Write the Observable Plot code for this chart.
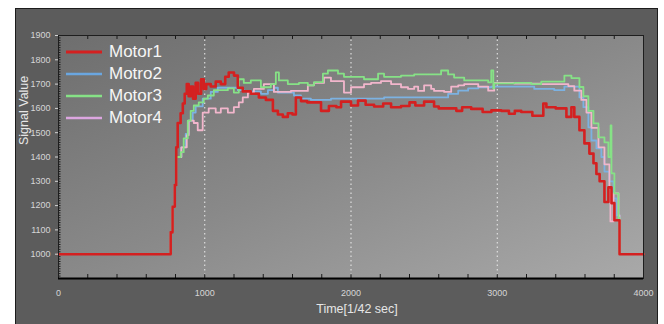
<!DOCTYPE html>
<html>
<head>
<meta charset="utf-8">
<script src="https://cdn.jsdelivr.net/npm/d3@7"></script>
<script src="https://cdn.jsdelivr.net/npm/@observablehq/plot@0.6"></script>
<style>
  html, body { margin: 0; padding: 0; background: #ffffff; }
  #wrap { position: relative; width: 664px; height: 324px; overflow: hidden; background: #ffffff; }
  #panel { position: absolute; left: 15px; top: 8px; width: 643px; height: 318px; background: #5c5c5c;
           border: 1.5px solid #1c1c1c; box-sizing: border-box; }
  #chart { position: absolute; left: 0; top: 0; }
  #legend { position: absolute; left: 66px; top: 41px; font-family: "Liberation Sans", Arial, sans-serif; }
  .row { display: flex; align-items: center; height: 22px; }
  .row span { color: #f6f6f6; font-size: 17px; margin-left: 7px; line-height: 22px; }
</style>
</head>
<body>
<svg width="0" height="0" style="position:absolute">
  <defs>
    <linearGradient id="plotbg" x1="0" y1="0" x2="1" y2="1">
      <stop offset="0" stop-color="#6e6e6e"/>
      <stop offset="0.5" stop-color="#898989"/>
      <stop offset="1" stop-color="#a9a9a9"/>
    </linearGradient>
  </defs>
</svg>
<div id="wrap">
  <div id="panel"></div>
  <div id="chart"></div>
  <div id="legend"></div>
</div>
<script>
// ---- data (time in 1/42 sec, signal value), step-after series ----
const motorNames = ["Motor1", "Motro2", "Motor3", "Motor4"];
const motorColors = ["#d42020", "#7cb2e2", "#86e286", "#f2b6cc"];
const legendColors = ["#d42020", "#6aa6e0", "#86e286", "#dca6e0"];

const motor1 = [[0,1000],[767,1090],[780,1195],[795,1285],[805,1440],[815,1540],[835,1580],[850,1620],[863,1660],[877,1700],[890,1650],[904,1690],[920,1640],[938,1705],[955,1660],[975,1720],[993,1680],[1010,1700],[1041,1690],[1075,1710],[1110,1700],[1140,1730],[1164,1748],[1200,1735],[1226,1685],[1260,1670],[1315,1660],[1370,1645],[1418,1635],[1466,1590],[1500,1575],[1534,1565],[1568,1580],[1600,1575],[1623,1645],[1658,1630],[1700,1625],[1795,1590],[1849,1610],[1900,1605],[1932,1628],[2000,1612],[2048,1632],[2100,1615],[2158,1608],[2220,1620],[2274,1605],[2342,1610],[2400,1625],[2440,1612],[2500,1628],[2568,1608],[2600,1600],[2685,1600],[2720,1590],[2760,1605],[2822,1598],[2900,1585],[2960,1592],[3027,1590],[3080,1578],[3120,1590],[3164,1585],[3240,1570],[3315,1620],[3336,1605],[3400,1600],[3473,1565],[3507,1605],[3527,1565],[3562,1510],[3596,1456],[3630,1414],[3658,1374],[3678,1330],[3700,1300],[3733,1215],[3760,1275],[3781,1210],[3801,1140],[3836,1000],[4000,1000]];

const motor2 = [[0,1000],[767,1090],[780,1195],[795,1285],[805,1400],[840,1440],[870,1495],[890,1550],[918,1583],[938,1608],[986,1640],[1041,1668],[1089,1685],[1158,1685],[1226,1675],[1267,1670],[1384,1660],[1432,1675],[1473,1685],[1500,1665],[1610,1653],[1658,1640],[1726,1635],[1863,1640],[2048,1640],[2226,1645],[2342,1645],[2664,1660],[2733,1673],[2801,1682],[2870,1687],[2959,1690],[3116,1690],[3253,1680],[3390,1675],[3459,1690],[3562,1645],[3589,1605],[3623,1522],[3644,1468],[3678,1436],[3712,1400],[3733,1340],[3767,1300],[3795,1230],[3815,1160],[3836,1000],[4000,1000]];

const motor3 = [[0,1000],[767,1090],[780,1195],[795,1285],[805,1400],[836,1420],[856,1477],[884,1550],[904,1590],[925,1612],[959,1625],[993,1640],[1021,1653],[1062,1675],[1158,1682],[1199,1665],[1233,1720],[1267,1705],[1315,1715],[1384,1687],[1452,1700],[1486,1748],[1507,1715],[1568,1700],[1644,1705],[1705,1695],[1747,1708],[1808,1743],[1842,1756],[1911,1743],[1952,1730],[2089,1720],[2185,1743],[2226,1730],[2342,1735],[2432,1740],[2616,1756],[2664,1740],[2705,1727],[2774,1715],[2938,1707],[2959,1756],[2973,1682],[2979,1703],[3116,1705],[3233,1700],[3301,1710],[3459,1735],[3507,1725],[3562,1688],[3589,1650],[3623,1590],[3658,1538],[3692,1481],[3733,1460],[3760,1400],[3775,1530],[3781,1333],[3801,1250],[3829,1150],[3836,1000],[4000,1000]];

const motor4 = [[0,1000],[767,1090],[780,1195],[795,1285],[805,1400],[840,1440],[877,1490],[890,1550],[925,1540],[952,1510],[986,1583],[1027,1600],[1075,1583],[1110,1600],[1158,1583],[1199,1605],[1233,1625],[1260,1645],[1295,1665],[1336,1680],[1404,1700],[1473,1668],[1589,1672],[1705,1695],[1747,1705],[1815,1727],[1863,1712],[1952,1665],[2000,1687],[2089,1700],[2137,1705],[2205,1712],[2274,1700],[2342,1687],[2390,1680],[2432,1690],[2459,1672],[2500,1695],[2548,1680],[2568,1672],[2637,1668],[2685,1690],[2733,1695],[2774,1700],[2870,1690],[2938,1673],[2979,1705],[3116,1702],[3301,1700],[3486,1692],[3527,1673],[3575,1635],[3610,1583],[3644,1520],[3692,1440],[3733,1370],[3767,1270],[3774,1135],[3795,1250],[3829,1160],[3836,1000],[4000,1000]];

const xTickLabels = [0, 1000, 2000, 3000, 4000];
const yTickLabels = [1000, 1100, 1200, 1300, 1400, 1500, 1600, 1700, 1800, 1900];
const xGrid = [1000, 2000, 3000];
const xMinor = d3.range(0, 4001, 200);
const yMinor = d3.range(900, 1901, 10);
const xLabel = "Time[1/42 sec]";
const yLabel = "Signal Value";

const series = [motor1, motor2, motor3, motor4];
const rows = series.map((s, i) => s.map(([t, v]) => ({t, v, motor: motorNames[i]})));

const W = 664, H = 324, mL = 58, mR = 21, mT = 35, mB = 46;
const plotW = W - mL - mR, plotH = H - mT - mB;
const plain = d => String(d);

const lineMark = (i, sw) => Plot.line(rows[i], {x: "t", y: "v", curve: "step-after", stroke: motorColors[i], strokeWidth: sw});

const chart = Plot.plot({
  width: W, height: H,
  marginLeft: mL, marginRight: mR, marginTop: mT, marginBottom: mB,
  x: {domain: [0, 4000]},
  y: {domain: [900, 1900]},
  style: {background: "transparent", color: "#d6d6d6", fontFamily: "'Liberation Sans Narrow', 'Liberation Sans', Arial, sans-serif", fontSize: "9px"},
  marks: [
    Plot.frame({fill: "url(#plotbg)", stroke: null}),
    Plot.ruleX(xGrid, {stroke: "#eeeeee", strokeDasharray: "1.5,3", strokeWidth: 1}),
    Plot.tickX(xMinor, {x: d => d, insetTop: plotH - 4, stroke: "#1a1a1a"}),
    Plot.tickX(xMinor, {x: d => d, insetBottom: plotH - 4, stroke: "#1a1a1a"}),
    Plot.tickY(yMinor, {y: d => d, insetRight: plotW - 2.5, stroke: "#1a1a1a", strokeWidth: 1}),
    lineMark(1, 1.8),
    lineMark(3, 1.8),
    lineMark(2, 1.8),
    lineMark(0, 2.6),
    Plot.frame({stroke: "#1e1e1e", strokeWidth: 1}),
    Plot.ruleY([900], {stroke: "#000000", strokeWidth: 1.8}),
    Plot.axisX(xTickLabels, {tickSize: 0, tickPadding: 11, label: null, tickFormat: plain}),
    Plot.axisY(yTickLabels, {tickSize: 3, tickPadding: 5, label: null, tickFormat: plain}),
    Plot.text([xLabel], {text: d => d, frameAnchor: "bottom", dx: 6, dy: 34, fontSize: 12.5, fontFamily: "'Liberation Sans', Arial, sans-serif", fill: "#e6e6e6"}),
    Plot.text([yLabel], {text: d => d, frameAnchor: "left", rotate: -90, dx: -35, dy: -12, fontSize: 12.5, fontFamily: "'Liberation Sans', Arial, sans-serif", fill: "#e6e6e6"})
  ]
});
document.getElementById("chart").appendChild(chart);

// legend
const legend = d3.select("#legend");
motorNames.forEach((name, i) => {
  const row = legend.append("div").attr("class", "row");
  const sv = row.append("svg").attr("width", 36).attr("height", 6);
  sv.append("line").attr("x1", 0).attr("x2", 36).attr("y1", 3).attr("y2", 3)
    .attr("stroke", legendColors[i]).attr("stroke-width", i === 0 ? 3 : 2.5);
  row.append("span").text(name);
});
</script>
</body>
</html>
